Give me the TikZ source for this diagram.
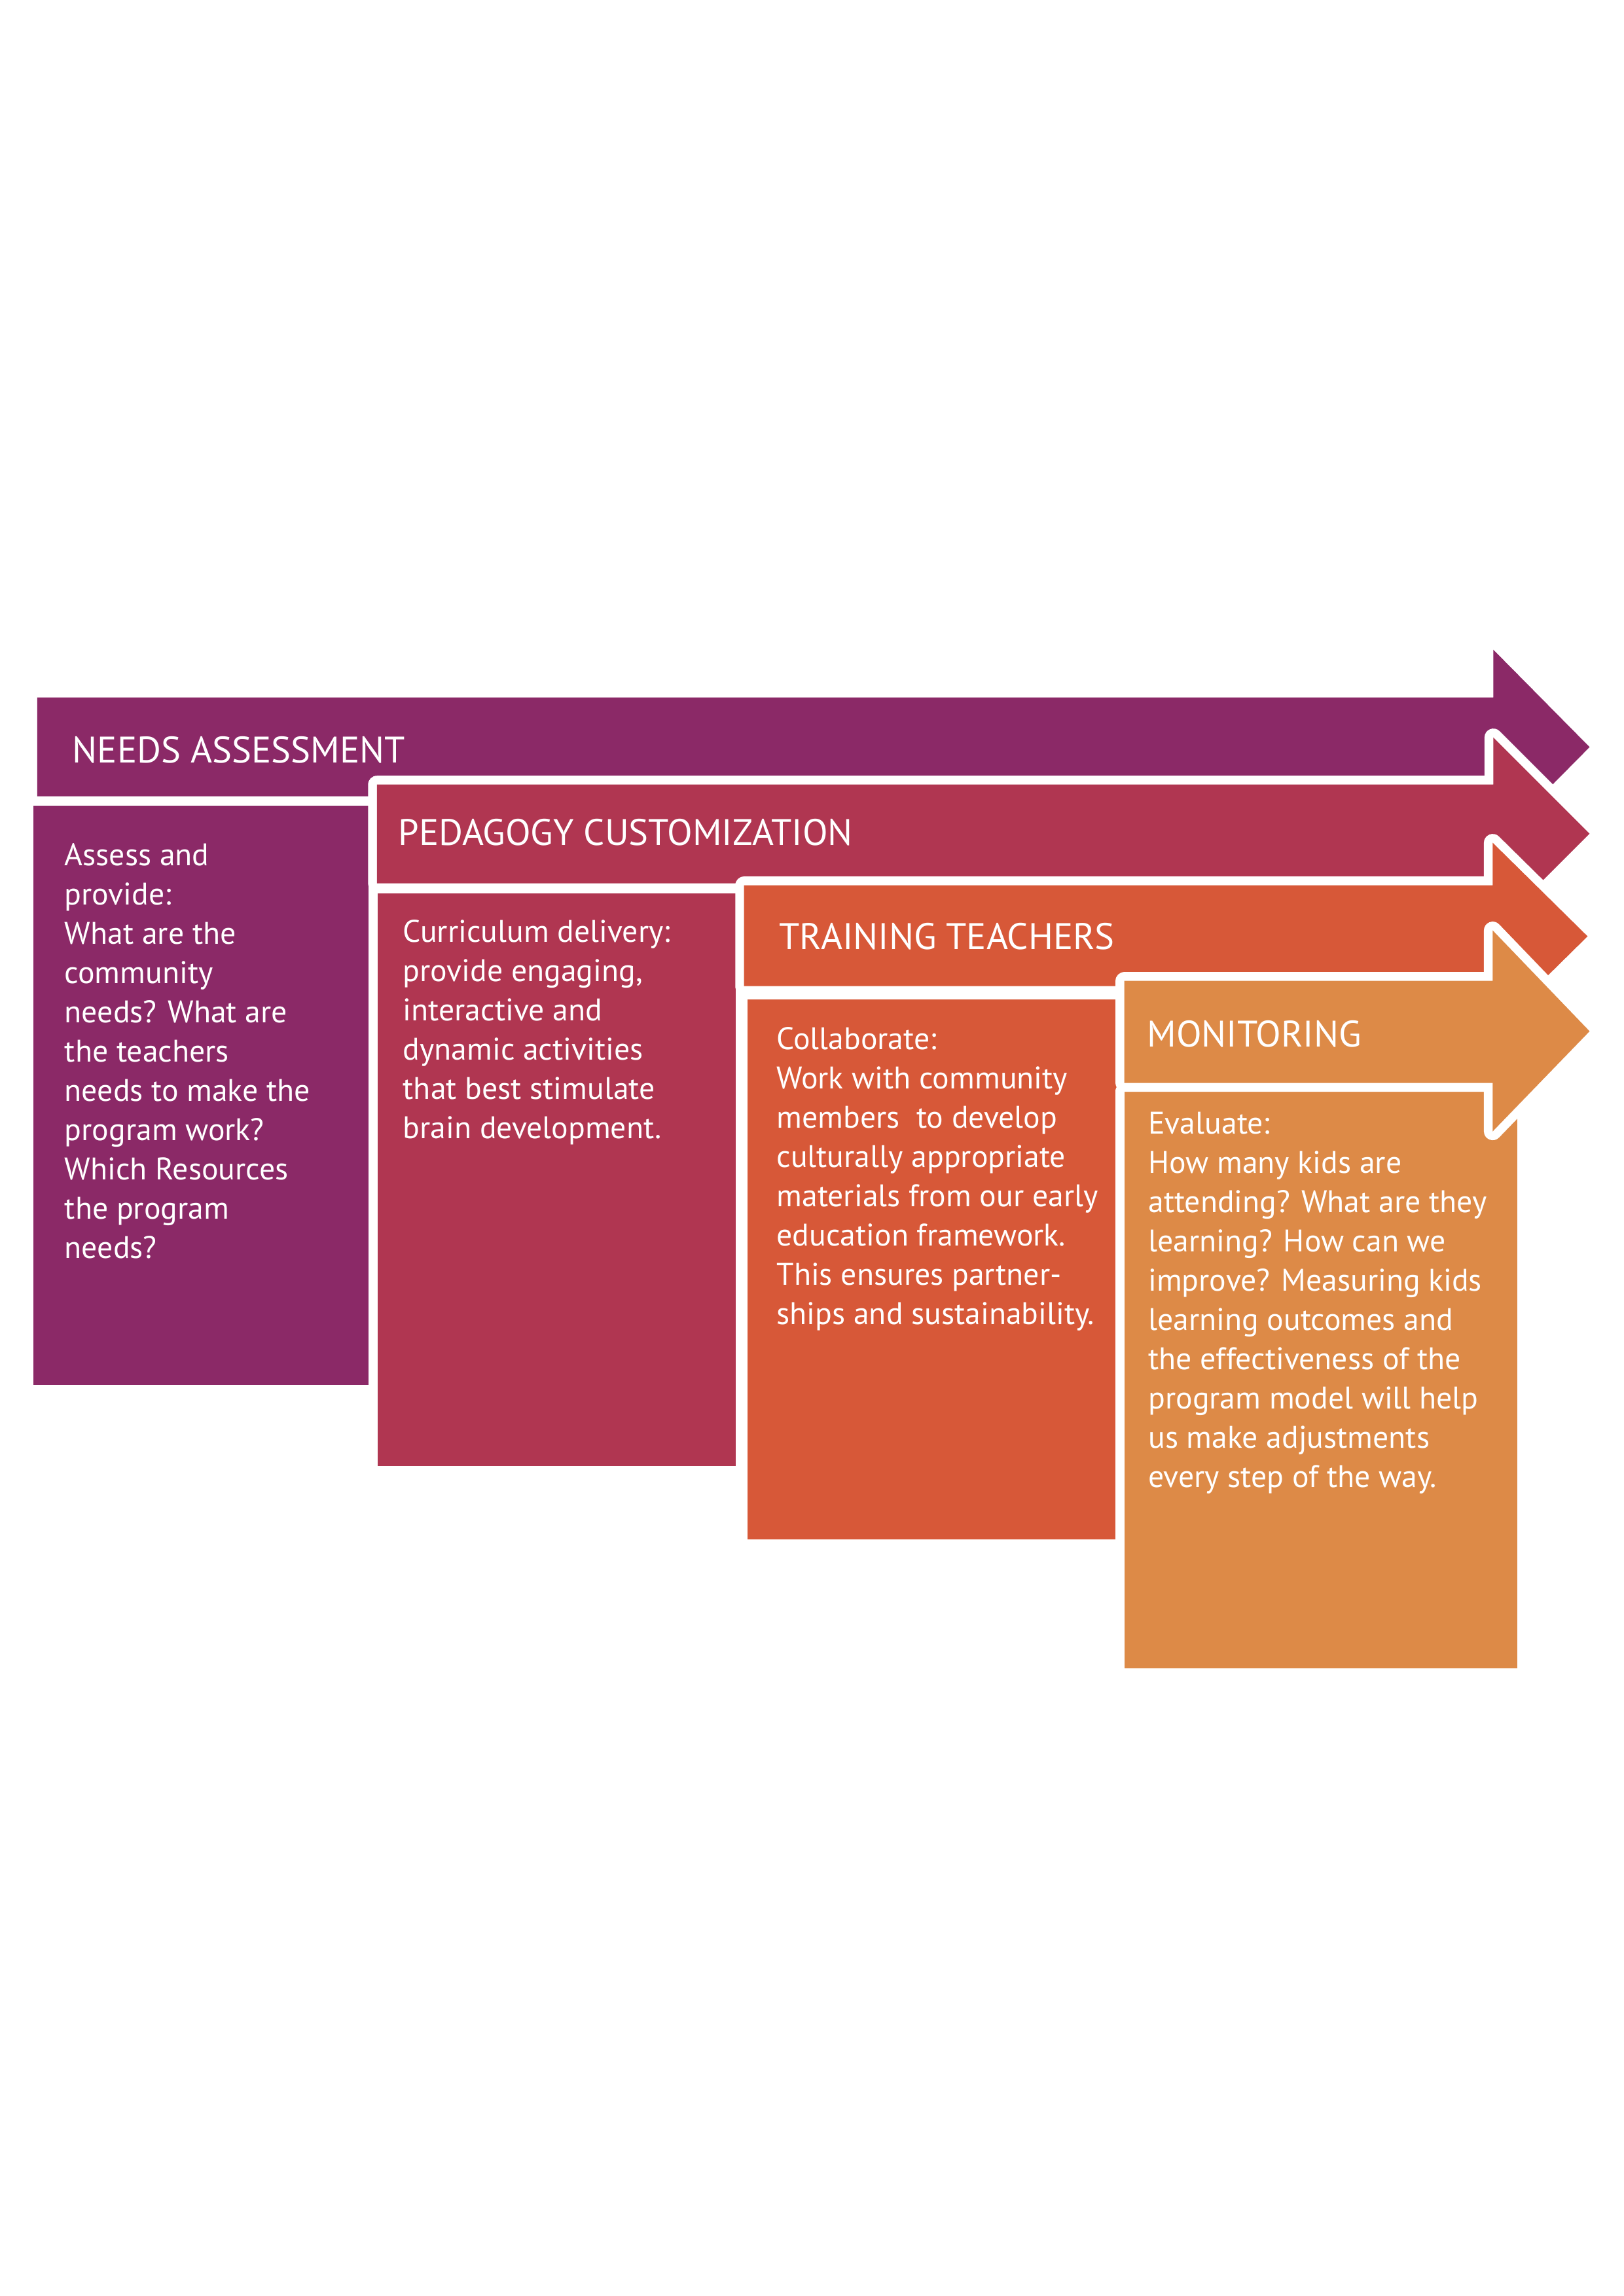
\documentclass[tikz,border=0pt]{standalone}
\usepackage{fontspec}
\setmainfont{PT Sans}

\definecolor{needs}{RGB}{139, 41, 103}
\definecolor{pedagogy}{RGB}{176, 54, 81}
\definecolor{training}{RGB}{215, 88, 56}
\definecolor{monitor}{RGB}{221, 138, 71}

\begin{document}
\begin{tikzpicture}[
  x=1cm,
  y=1cm,
  stage/.style={preaction={draw=white, line width=6.5pt, line join=round}},
  headlabel/.style={font=\fontsize{13.6}{16}\selectfont, text=white, anchor=base west, inner sep=0pt},
  bodylabel/.style={font=\fontsize{11.5}{14.45}\selectfont, text=white, anchor=north west, align=left, inner sep=0pt}
]
  \useasboundingbox (0,0) rectangle (21,29.7);

  % Needs assessment
  \fill[needs, stage] (0.432, 19.280) rectangle (4.765, 11.789);
  \fill[needs, stage] (0.482, 20.677) -- (19.315, 20.677) -- (19.315, 21.295) -- (20.560, 20.036)
    -- (19.315, 18.777) -- (19.315, 19.399) -- (0.482, 19.399) -- cycle;

  % Pedagogy customization
  \fill[pedagogy, stage] (4.884, 18.146) rectangle (9.514, 10.732);
  \fill[pedagogy, stage] (4.875, 19.551) -- (19.315, 19.551) -- (19.315, 20.161) -- (20.560, 18.916)
    -- (19.315, 17.671) -- (19.315, 18.273) -- (4.875, 18.273) -- cycle;

  % Training teachers
  \fill[training, stage] (9.666, 16.775) rectangle (14.449, 9.784);
  \fill[training, stage] (9.624, 18.248) -- (19.307, 18.248) -- (19.307, 18.798) -- (20.534, 17.588)
    -- (19.307, 16.378) -- (19.307, 16.944) -- (9.624, 16.944) -- cycle;

  % Monitoring
  \fill[monitor, stage] (14.542, 15.582) rectangle (19.629, 8.116);
  \fill[monitor, stage] (14.542, 17.012) -- (19.307, 17.012) -- (19.307, 17.664) -- (20.560, 16.360)
    -- (19.307, 15.065) -- (19.307, 15.692) -- (14.542, 15.692) -- cycle;

  % Step titles
  \node[headlabel] (needshead) at (0.931, 19.831) {NEEDS ASSESSMENT};
  \node[headlabel] (pedhead) at (5.146, 18.764) {PEDAGOGY CUSTOMIZATION};
  \node[headlabel] (trainhead) at (10.073, 17.418) {TRAINING TEACHERS};
  \node[headlabel] (monhead) at (14.829, 16.157) {MONITORING};

  % Step descriptions
  \node[bodylabel] (needstext) at (0.83, 18.80) {Assess and\\provide:\\What are the\\community\\needs? What are\\the teachers\\needs to make the\\program work?\\Which Resources\\the program\\needs?};
  \node[bodylabel] (pedtext) at (5.206, 17.81) {Curriculum delivery:\\provide engaging,\\interactive and\\dynamic activities\\that best stimulate\\brain development.};
  \node[bodylabel] (traintext) at (10.039, 16.42) {Collaborate:\\Work with community\\members\ \ to develop\\culturally appropriate\\materials from our early\\education framework.\\This ensures partner-\\ships and sustainability.};
  \node[bodylabel] (montext) at (14.846, 15.32) {Evaluate:\\How many kids are\\attending? What are they\\learning? How can we\\improve? Measuring kids\\learning outcomes and\\the effectiveness of the\\program model will help\\us make adjustments\\every step of the way.};

\end{tikzpicture}
\end{document}
